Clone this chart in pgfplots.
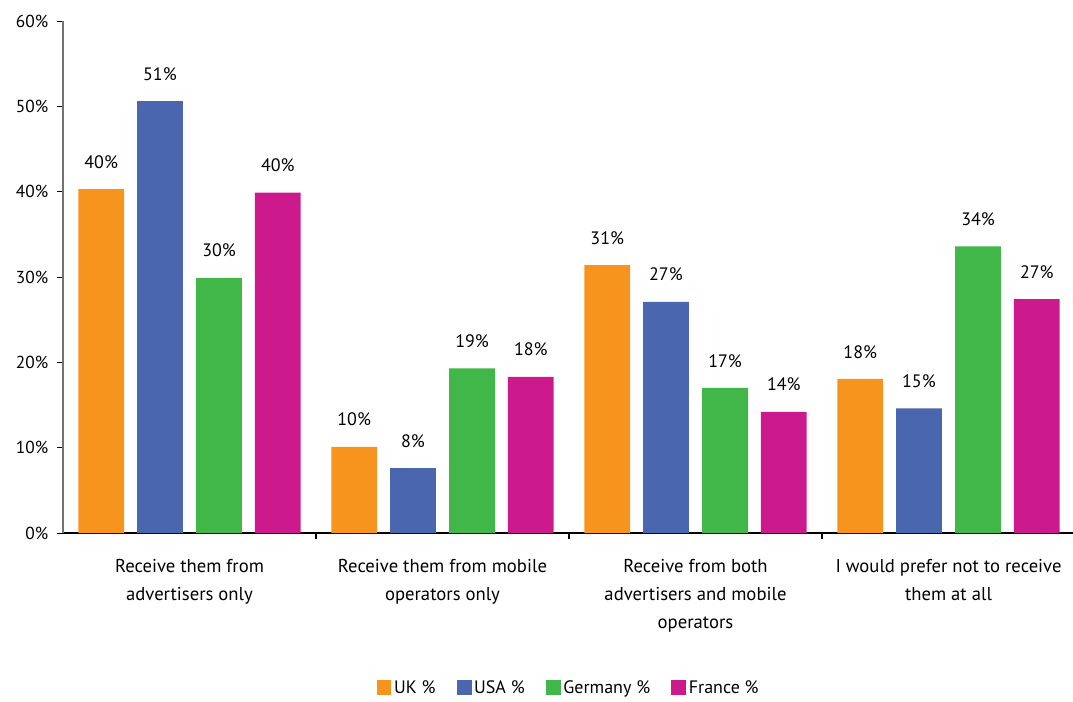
\documentclass[border=0pt]{standalone}
\usepackage{fontspec}
\setmainfont{PT Sans}
\usepackage{pgfplots}
\pgfplotsset{compat=1.18}
\usetikzlibrary{calc}
\pgfkeys{/pgf/number format/assume math mode=true}
\definecolor{cuk}{HTML}{F7941D}
\definecolor{cusa}{HTML}{4A66AF}
\definecolor{cde}{HTML}{41B649}
\definecolor{cfr}{HTML}{CC1A8D}
\begin{document}
\begin{tikzpicture}
\begin{axis}[
  name=ax,
  scale only axis,
  width=759pt, height=384pt,
  xmin=-0.5, xmax=3.5,
  ymin=0, ymax=60,
  ybar, bar width=0.181,
  axis x line=bottom, axis y line=left,
  x axis line style={-, black, line width=0.9pt},
  y axis line style={-, black!55, line width=1.1pt},
  tick align=outside,
  major tick length=4.5pt,
  ytick={0,10,...,60},
  yticklabel={\pgfmathprintnumber{\tick}\%},
  y tick style={black, line width=0.7pt},
  yticklabel style={font=\fontsize{13}{15}\selectfont, xshift=-3pt},
  xtick={0.5,1.5,2.5},
  xticklabels={},
  x tick style={black, line width=0.9pt},
  extra x ticks={0,1,2,3},
  extra x tick labels={Receive them from\\advertisers only, Receive them from mobile\\operators only, Receive from both\\advertisers and mobile\\operators, I would prefer not to receive\\them at all},
  extra x tick style={major tick length=0pt, tick label style={font=\fontsize{14}{21}\selectfont, align=center, yshift=-16pt}},
  nodes near coords={\pgfmathprintnumber[fixed,precision=0]{\pgfplotspointmeta}\%},
  every node near coord/.append style={font=\fontsize{13.5}{15}\selectfont, black, anchor=south, yshift=12pt},
  legend style={at={(0.5,-0.302)}, anchor=center, draw=none, legend columns=-1,
    font=\fontsize{13.5}{15}\selectfont, /tikz/every even column/.append style={column sep=14pt}},
  legend image code/.code={\fill[#1] (0pt,-5.5pt) rectangle (11pt,5.5pt);},
]
\addplot[fill=cuk, draw=none, bar shift=-0.349] coordinates {(0,40.3) (1,10.1) (2,31.4) (3,18.05)};
\addplot[fill=cusa, draw=none, bar shift=-0.117] coordinates {(0,50.6) (1,7.6) (2,27.1) (3,14.6)};
\addplot[fill=cde, draw=none, bar shift=0.117] coordinates {(0,29.9) (1,19.3) (2,17.0) (3,33.6)};
\addplot[fill=cfr, draw=none, bar shift=0.349] coordinates {(0,39.9) (1,18.3) (2,14.2) (3,27.4)};
\legend{UK \%, USA \%, Germany \%, France \%}
\end{axis}
\pgfresetboundingbox
\path[use as bounding box] ($(ax.south west)+(-47.25pt,-126pt)$) rectangle ($(ax.north east)+(-1.5pt,15.75pt)$);
\end{tikzpicture}
\end{document}
